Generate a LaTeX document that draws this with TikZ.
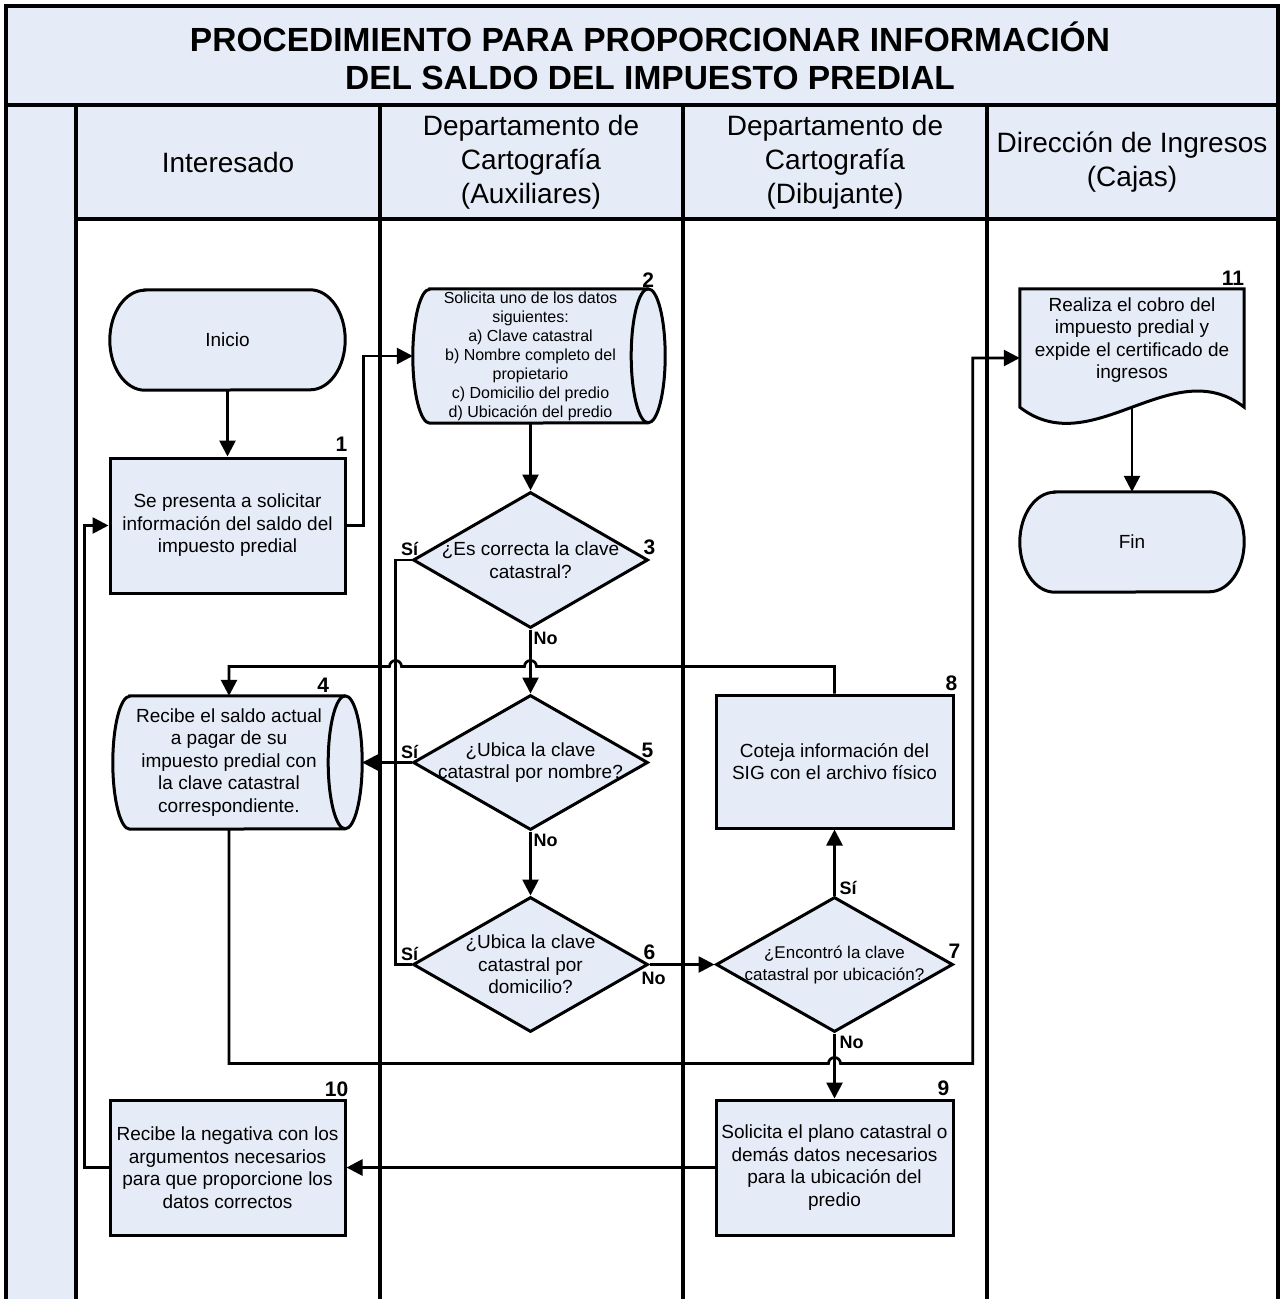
\documentclass[tikz,border=0pt]{standalone}
\usepackage{fontspec}
\setmainfont{Liberation Sans}
\usetikzlibrary{arrows.meta,shapes.geometric,calc}
\definecolor{paleblue}{RGB}{230,236,247}
\pgfdeclarelayer{grid}
\pgfdeclarelayer{outline}
\pgfsetlayers{grid,outline,main}

\newcommand\titlesize{\fontsize{33.5}{38}\selectfont\bfseries}
\newcommand\headsize{\fontsize{28}{34}\selectfont}
\newcommand\bodysize{\fontsize{19}{22.5}\selectfont}
\newcommand\smallsize{\fontsize{16}{19}\selectfont}
\newcommand\dsize{\fontsize{17}{22}\selectfont}
\newcommand\numsize{\fontsize{21}{21}\selectfont\bfseries}
\newcommand\lblsize{\fontsize{18}{18}\selectfont\bfseries}

% terminator: straight top and bottom, half-elliptic ends
\newcommand\termoutline[1]{%
  \draw[outl] ([xshift=35pt]#1.north west) -- ([xshift=-35pt]#1.north east)
    arc[start angle=-90,end angle=90,x radius=35,y radius=50]
    -- ([xshift=35pt]#1.south west)
    arc[start angle=90,end angle=270,x radius=35,y radius=50] -- cycle;}
% stored data: curved left end, elliptic right end
\newcommand\storeoutline[2]{%
  \draw[outl] ([xshift=17pt]#1.north west) -- (#1.north east)
    arc[start angle=-90,end angle=90,x radius=17,y radius=#2]
    -- ([xshift=17pt]#1.south west)
    arc[start angle=90,end angle=270,x radius=17,y radius=#2] -- cycle;
  \draw[line width=3pt] (#1.north east)
    arc[start angle=270,end angle=90,x radius=17,y radius=#2];}

\tikzset{
  gridline/.style={line width=3.3pt},
  box/.style={draw, line width=3pt, fill=paleblue, inner sep=0pt, align=center, font=\bodysize},
  plain/.style={inner sep=0pt, align=center},
  decision/.style={diamond, draw, line width=3pt, fill=paleblue, inner sep=0pt},
  outl/.style={draw, line width=3pt, fill=paleblue},
  flow/.style={line width=2.7pt, -{Triangle[length=16pt,width=16pt]}},
  link/.style={line width=2.7pt},
  stepnum/.style={font=\numsize, inner sep=0pt},
  answer/.style={font=\lblsize, inner sep=0pt},
}

\begin{document}
\begin{tikzpicture}[x=1pt,y=-1pt]
\useasboundingbox (0,0) rectangle (1282,1299);

% ---- swimlane frame ----
\begin{pgfonlayer}{grid}
  \fill[paleblue] (6,6) rectangle (1278,105);
  \fill[paleblue] (6,105) rectangle (76,1299);
  \fill[paleblue] (76,105) rectangle (1278,219);
  \draw[gridline] (6,1299) -- (6,6) -- (1278,6) -- (1278,1299);
  \draw[gridline] (6,105) -- (1278,105);
  \draw[gridline] (76,219) -- (1278,219);
  \foreach \lx in {76,380,683,987}
    \draw[gridline] (\lx,105) -- (\lx,1299);
\end{pgfonlayer}

\node[plain, font=\titlesize] (title) at (650,56)
  {PROCEDIMIENTO PARA PROPORCIONAR INFORMACIÓN\\DEL SALDO DEL IMPUESTO PREDIAL};
\node[plain, font=\headsize] (h1) at (228,162) {Interesado};
\node[plain, font=\headsize] (h2) at (531,162) {Departamento de\\Cartografía\\(Auxiliares)};
\node[plain, font=\headsize] (h3) at (835,162) {Departamento de\\Cartografía\\(Dibujante)};
\node[plain, font=\headsize] (h4) at (1132,162) {Dirección de Ingresos\\(Cajas)};

% ---- steps ----
\node[plain, font=\bodysize, minimum width=235pt, minimum height=100pt] (ini) at (227.5,340) {Inicio};
\node[box, minimum width=235pt, minimum height=135pt] (b1) at (227.5,525.5)
  {Se presenta a solicitar\\información del saldo del\\impuesto predial};
\node[plain, font=\smallsize, minimum width=235pt, minimum height=134pt] (b2) at (530.5,356)
  {Solicita uno de los datos\\siguientes:\\a) Clave catastral\\b) Nombre completo del\\propietario\\c) Domicilio del predio\\d) Ubicación del predio};
\node[decision, minimum width=235pt, minimum height=136pt,
  label={[align=center,font=\bodysize]center:{¿Es correcta la clave\\catastral?}}] (d3) at (530.5,560) {};
\node[plain, font=\bodysize, minimum width=232pt, minimum height=133pt] (b4) at (229,762.5)
  {Recibe el saldo actual\\a pagar de su\\impuesto predial con\\la clave catastral\\correspondiente.};
\node[decision, minimum width=235pt, minimum height=135pt,
  label={[align=center,font=\bodysize]center:{¿Ubica la clave\\catastral por nombre?}}] (d5) at (530.5,762.5) {};
\node[decision, minimum width=235pt, minimum height=135pt,
  label={[align=center,font=\bodysize]center:{¿Ubica la clave\\catastral por\\domicilio?}}] (d6) at (530.5,964.5) {};
\node[decision, minimum width=237pt, minimum height=135pt,
  label={[align=center,font=\dsize]center:{¿Encontró la clave\\catastral por ubicación?}}] (d7) at (834.5,964.5) {};
\node[box, minimum width=237pt, minimum height=133pt] (b8) at (834.5,761.5)
  {Coteja información del\\SIG con el archivo físico};
\node[box, minimum width=237pt, minimum height=135pt] (b9) at (834.5,1167.5)
  {Solicita el plano catastral o\\demás datos necesarios\\para la ubicación del\\predio};
\node[box, minimum width=235pt, minimum height=135pt] (b10) at (227.5,1167.5)
  {Recibe la negativa con los\\argumentos necesarios\\para que proporcione los\\datos correctos};
\node[plain, minimum width=224pt, minimum height=118pt,
  label={[align=center,font=\bodysize,yshift=8pt]center:{Realiza el cobro del\\impuesto predial y\\expide el certificado de\\ingresos}}] (b11) at (1132,348) {};
\node[plain, font=\bodysize, minimum width=224pt, minimum height=100pt] (fin) at (1132,542) {Fin};

\begin{pgfonlayer}{outline}
  \termoutline{ini}
  \termoutline{fin}
  \storeoutline{b2}{67}
  \storeoutline{b4}{66.5}
  \draw[outl] (b11.north west) -- (b11.north east) -- (b11.south east)
    .. controls ($(b11.south east)+(-72,-56)$) and ($(b11.south west)+(72,56)$) .. (b11.south west) -- cycle;
\end{pgfonlayer}

% ---- step numbers ----
\node[stepnum, anchor=south east] at ($(b1.north east)+(1,-5)$) {1};
\node[stepnum, anchor=south] at ($(b2.north east)+(0,-1)$) {2};
\node[stepnum, anchor=south] at ($(d3.east)+(0,-5)$) {3};
\node[stepnum, anchor=south] at ($(b4.north east)+(-22,-3)$) {4};
\node[stepnum, anchor=south] at ($(d5.east)+(-2,-5)$) {5};
\node[stepnum, anchor=south] at ($(d6.east)+(0,-5)$) {6};
\node[stepnum, anchor=south] at ($(d7.east)+(0,-6)$) {7};
\node[stepnum, anchor=south east] at ($(b8.north east)+(3,-3)$) {8};
\node[stepnum, anchor=south east] at ($(b9.north east)+(-5,-3)$) {9};
\node[stepnum, anchor=south east] at ($(b10.north east)+(2,-2)$) {10};
\node[stepnum, anchor=south east] at ($(b11.north east)+(0,-3)$) {11};

% ---- helper points for the routed connectors ----
\coordinate (b4r) at ($(b4.east)+(17,0)$);
\coordinate (sjoin) at ($(d5.west)+(-16,0)$);
\coordinate (toprun) at ($(b8.north)+(0,-27)$);
\coordinate (lowrun) at ($(b9.north)+(0,-35)$);
\coordinate (riser) at ($(b11.west)+(-47,0)$);
\coordinate (b11in) at ($(b11.west)+(0,10)$);

% ---- connectors ----
\draw[flow] (ini) -- (b1);
\draw[flow] (b1.east) -- ++(17,0) |- (b2.west);
\draw[flow] (b2) -- (d3);
\draw[flow] (d3) -- (d5);
\draw[flow] (d5) -- (d6);
\draw[flow] (d6.east) -- (d7.west);
\draw[flow] (d7) -- (b8);
\draw[flow] (d7) -- (b9);
\draw[flow] (d5.west) -- (d5.west -| b4r);
\draw[link] (d3.west) -| (sjoin);
\draw[link] (d6.west) -| (sjoin);
\draw[flow] (b8.north) -- (toprun)
  -- ($(d3.south |- toprun)+(6,0)$) arc[start angle=0,end angle=-180,radius=6]
  -- ($(sjoin |- toprun)+(6,0)$) arc[start angle=0,end angle=-180,radius=6]
  -- (b4.north |- toprun) -- (b4.north);
\draw[flow] (b4.south) -- (b4.south |- lowrun)
  -- ($(d7.south |- lowrun)+(-6,0)$) arc[start angle=180,end angle=360,radius=6]
  -- (riser |- lowrun) |- (b11in);
\draw[flow] (b9.west) -- (b10.east);
\draw[flow] (b10.west) -- ++(-24,0) |- (b1.west);
\draw[flow] (b11.south) -- (fin.north);

% ---- decision answers ----
\node[answer, anchor=south] at ($(d3.west)+(-2,-4)$) {Sí};
\node[answer, anchor=north west] at ($(d3.south)+(3,2)$) {No};
\node[answer, anchor=south] at ($(d5.west)+(-2,-4)$) {Sí};
\node[answer, anchor=north west] at ($(d5.south)+(3,2)$) {No};
\node[answer, anchor=south] at ($(d6.west)+(-2,-4)$) {Sí};
\node[answer, anchor=north] at ($(d6.east)+(4,7)$) {No};
\node[answer, anchor=south west] at ($(d7.north)+(5,-1)$) {Sí};
\node[answer, anchor=north west] at ($(d7.south)+(5,2)$) {No};
\end{tikzpicture}
\end{document}
